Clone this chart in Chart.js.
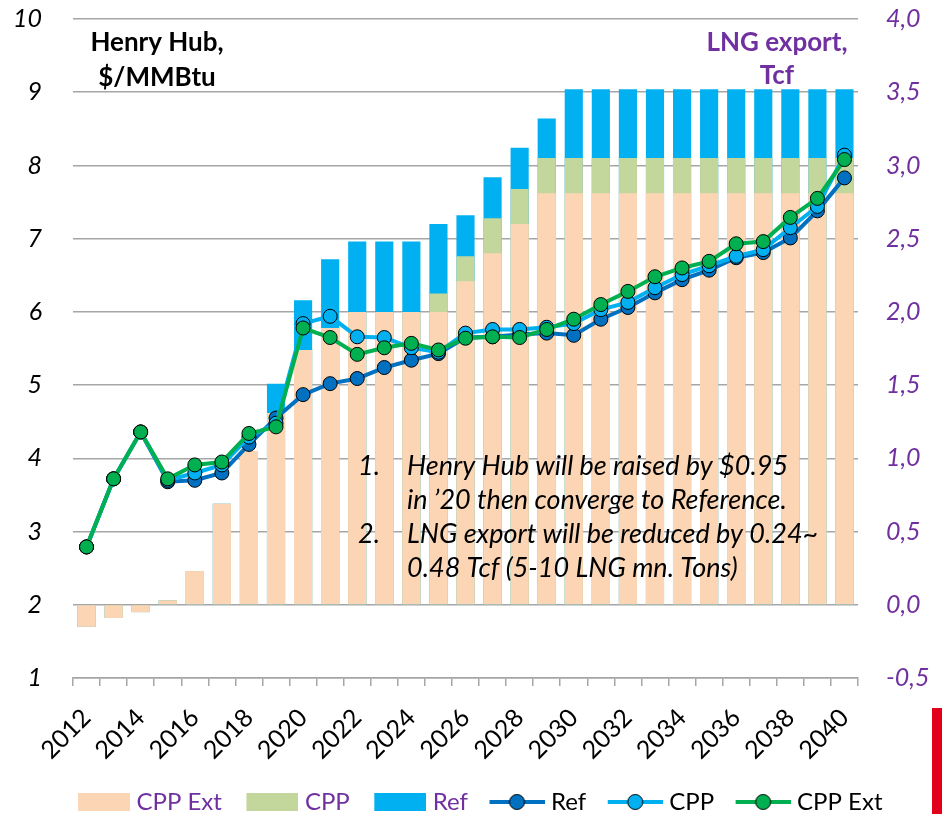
<!DOCTYPE html>
<html>
<head>
<meta charset="utf-8">
<script src="https://cdn.jsdelivr.net/npm/chart.js@4"></script>
<style>
html,body{margin:0;padding:0;background:#fff;}
#wrap{position:relative;width:942px;height:814px;overflow:hidden;}
#red{position:absolute;left:932px;top:708px;width:10px;height:106px;background:#E3001B;}
</style>
</head>
<body>
<div id="wrap"><canvas id="c" width="942" height="814"></canvas><div id="red"></div></div>
<script>
// ---- data ----
const years = ['2012','2013','2014','2015','2016','2017','2018','2019','2020','2021','2022','2023','2024','2025','2026',
  '2027','2028','2029','2030','2031','2032','2033','2034','2035','2036','2037','2038','2039','2040'];
const labeledYears = ['2012','2014','2016','2018','2020','2022','2024','2026','2028','2030','2032','2034','2036','2038','2040'];

// LNG export, Tcf (right axis, bars)
const lngCppExt = [-0.15,-0.09,-0.05,0.03,0.23,0.69,1.05,1.31,1.74,1.89,2.00,2.00,2.00,2.00,2.21,
  2.40,2.60,2.81,2.81,2.81,2.81,2.81,2.81,2.81,2.81,2.81,2.81,2.81,2.81];
const lngCpp = [-0.15,-0.09,-0.05,0.03,0.23,0.69,1.05,1.31,1.74,1.89,2.00,2.00,2.00,2.125,2.38,
  2.64,2.84,3.05,3.05,3.05,3.05,3.05,3.05,3.05,3.05,3.05,3.05,3.05,3.05];
const lngRef = [-0.15,-0.09,-0.05,0.03,0.23,0.69,1.05,1.51,2.08,2.36,2.48,2.48,2.48,2.60,2.66,
  2.92,3.12,3.32,3.52,3.52,3.52,3.52,3.52,3.52,3.52,3.52,3.52,3.52,3.52];

// Henry Hub, $/MMBtu (left axis, lines)
const hhRef = [2.79,3.72,4.36,3.68,3.70,3.80,4.19,4.55,4.87,5.02,5.09,5.24,5.34,5.43,5.65,
  5.66,5.69,5.71,5.68,5.90,6.06,6.26,6.44,6.57,6.74,6.81,7.01,7.38,7.83];
const hhCpp = [2.79,3.72,4.36,3.70,3.80,3.91,4.29,4.48,5.84,5.94,5.66,5.65,5.51,5.45,5.71,
  5.76,5.76,5.79,5.84,6.03,6.13,6.33,6.51,6.63,6.76,6.85,7.15,7.44,8.14];
const hhCppExt = [2.79,3.72,4.36,3.72,3.91,3.95,4.34,4.43,5.78,5.65,5.42,5.51,5.57,5.48,5.64,
  5.66,5.65,5.76,5.90,6.10,6.28,6.48,6.60,6.69,6.93,6.96,7.29,7.55,8.08];

const noteLines = [
  ['1.', 'Henry Hub will be raised by $0.95'],
  ['',   'in \u201920 then converge to Reference.'],
  ['2.', 'LNG export will be reduced by 0.24~'],
  ['',   '0.48 Tcf (5-10 LNG mn. Tons)']
];
const leftTitle = ['Henry Hub,', '$/MMBtu'];
const rightTitle = ['LNG export,', 'Tcf'];

// ---- styles ----
const C = {
  peach:'#FCD5B4', olive:'#C3D69B', sky:'#00B0F0', navy:'#0070C0', green:'#00B050',
  purple:'#7030A0', grid:'#A6A6A6'
};
const FONT = 'Lato';

function boxImg(color){
  const c = document.createElement('canvas'); c.width = 76; c.height = 18;
  const g = c.getContext('2d'); g.fillStyle = color; g.fillRect(24, 0, 52, 18);
  return c;
}
function lineImg(color){
  const c = document.createElement('canvas'); c.width = 76; c.height = 20;
  const g = c.getContext('2d');
  g.strokeStyle = color; g.lineWidth = 4; g.beginPath(); g.moveTo(21, 10); g.lineTo(76, 10); g.stroke();
  g.fillStyle = color; g.beginPath(); g.arc(48.5, 10, 7.5, 0, Math.PI*2); g.fill();
  g.lineWidth = 1; g.strokeStyle = '#000'; g.stroke();
  return c;
}

const textPlugin = {
  id: 'texts',
  afterDatasetsDraw(chart){
    const ctx = chart.ctx;
    ctx.save();
    ctx.textBaseline = 'alphabetic';
    // left title
    ctx.font = 'bold 26px ' + FONT; ctx.fillStyle = '#000'; ctx.textAlign = 'center';
    ctx.fillText(leftTitle[0], 157, 51);
    ctx.fillText(leftTitle[1], 157, 86);
    // right title
    ctx.fillStyle = C.purple;
    ctx.fillText(rightTitle[0], 777, 51);
    ctx.fillText(rightTitle[1], 777, 84);
    // note
    ctx.font = 'italic 27px ' + FONT; ctx.fillStyle = '#000'; ctx.textAlign = 'left';
    const base = [475, 509, 543, 577];
    noteLines.forEach((ln, i) => {
      if (ln[0]) ctx.fillText(ln[0], 358, base[i]);
      ctx.fillText(ln[1], 407, base[i]);
    });
    ctx.restore();
  }
};

const lineBase = {type:'line', yAxisID:'y', borderWidth:4, tension:0, pointRadius:7, pointHoverRadius:7,
  pointBorderColor:'#000', pointBorderWidth:1, fill:false};
const barBase = {type:'bar', yAxisID:'y1', grouped:false, categoryPercentage:1, barPercentage:0.67, borderWidth:0};

const datasets = [
  Object.assign({}, barBase, {label:'CPP Ext', data:lngCppExt, backgroundColor:C.peach, order:3, _legImg:boxImg(C.peach), _legColor:C.purple}),
  Object.assign({}, barBase, {label:'CPP', data:lngCpp, backgroundColor:C.olive, order:4, _legImg:boxImg(C.olive), _legColor:C.purple}),
  Object.assign({}, barBase, {label:'Ref', data:lngRef, backgroundColor:C.sky, order:5, _legImg:boxImg(C.sky), _legColor:C.purple}),
  Object.assign({}, lineBase, {label:'Ref', data:hhRef, borderColor:C.navy, backgroundColor:C.navy, pointBackgroundColor:C.navy, order:2, _legImg:lineImg(C.navy), _legColor:'#000'}),
  Object.assign({}, lineBase, {label:'CPP', data:hhCpp, borderColor:C.sky, backgroundColor:C.sky, pointBackgroundColor:C.sky, order:1, _legImg:lineImg(C.sky), _legColor:'#000'}),
  Object.assign({}, lineBase, {label:'CPP Ext', data:hhCppExt, borderColor:C.green, backgroundColor:C.green, pointBackgroundColor:C.green, order:0, _legImg:lineImg(C.green), _legColor:'#000'})
];

new Chart(document.getElementById('c'), {
  data: {labels: years, datasets},
  plugins: [textPlugin],
  options: {
    responsive:false, animation:false, devicePixelRatio:1,
    layout:{padding:{top:19, left:0, right:0, bottom:-10}},
    plugins:{
      tooltip:{enabled:false},
      legend:{
        position:'bottom',
        labels:{
          usePointStyle:true, pointStyleWidth:65, padding:6,
          font:{family:FONT, size:24},
          generateLabels(chart){
            return chart.data.datasets.map((ds, i) => ({
              text: ds.label, datasetIndex: i, pointStyle: ds._legImg,
              fontColor: ds._legColor, fillStyle:'rgba(0,0,0,0)', strokeStyle:'rgba(0,0,0,0)', lineWidth:0, hidden:false
            }));
          }
        }
      }
    },
    scales:{
      x:{
        offset:true,
        grid:{display:true, drawOnChartArea:false, drawTicks:true, tickLength:8, color:C.grid, offset:true, lineWidth:1.5},
        border:{display:true, color:C.grid, width:1.5},
        ticks:{autoSkip:false, maxRotation:45, minRotation:45, padding:17, color:'#000',
          font:{family:FONT, size:25},
          callback:(v, i) => labeledYears.includes(years[i]) ? years[i] : ''},
        afterFit(s){ s.height = 106; }
      },
      y:{
        position:'left', min:1, max:10,
        ticks:{stepSize:1, padding:0, color:'#000', font:{family:FONT, size:25, style:'italic'}},
        grid:{color:C.grid, drawTicks:true, tickLength:31, tickColor:'rgba(0,0,0,0)', lineWidth:1.5},
        border:{display:false},
        afterFit(s){ s.width = 73; }
      },
      y1:{
        position:'right', min:-0.5, max:4,
        ticks:{stepSize:0.5, padding:0, color:C.purple, font:{family:FONT, size:25, style:'italic'},
          callback:v => Number(v).toFixed(1).replace('.', ',')},
        grid:{display:true, drawOnChartArea:false, drawTicks:true, tickLength:28, tickColor:'rgba(0,0,0,0)'},
        border:{display:false},
        afterFit(s){ s.width = 84; }
      }
    }
  }
});
</script>
</body>
</html>
